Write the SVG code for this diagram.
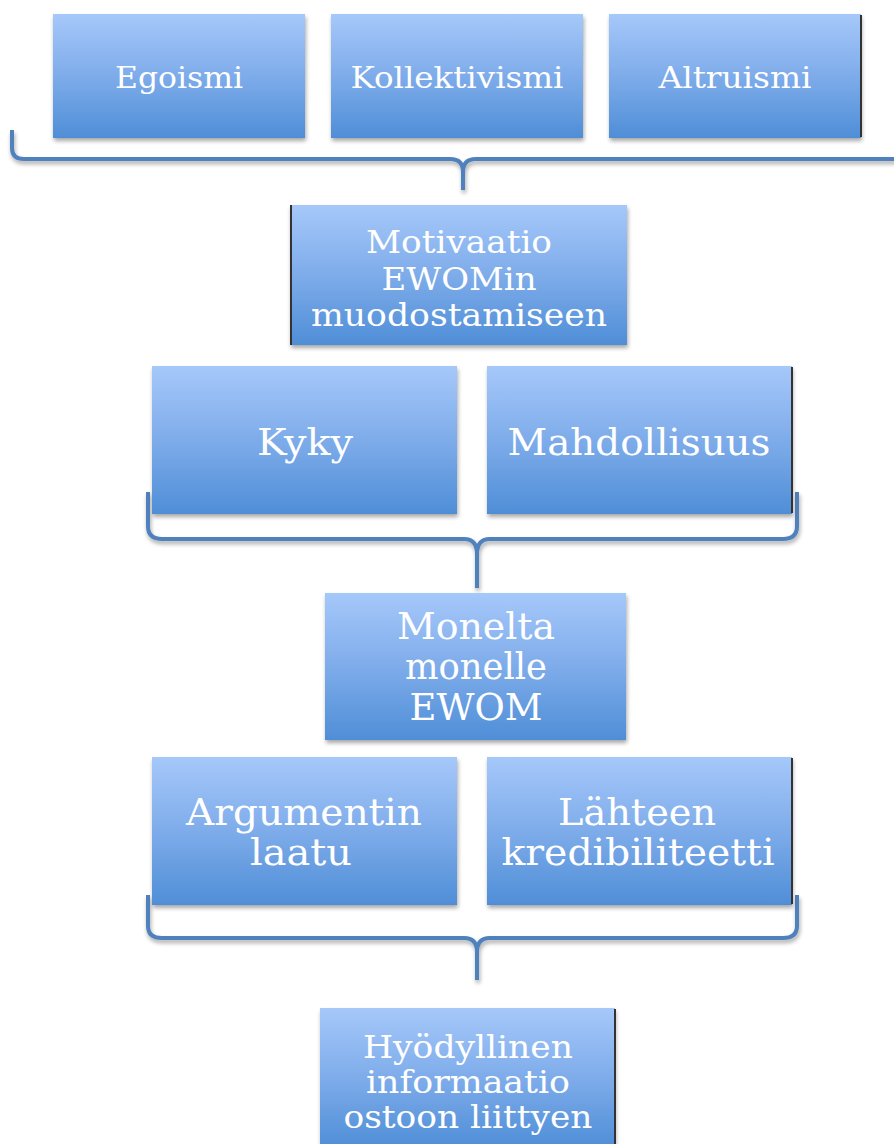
<svg xmlns="http://www.w3.org/2000/svg" width="894" height="1144" viewBox="0 0 894 1144">
<defs>
<linearGradient id="g" x1="0" y1="0" x2="0" y2="1">
<stop offset="0" stop-color="#a6c8fa"/>
<stop offset="0.5" stop-color="#7eacea"/>
<stop offset="1" stop-color="#4f8ed7"/>
</linearGradient>
<filter id="sh" x="-10%" y="-10%" width="125%" height="125%">
<feGaussianBlur in="SourceAlpha" stdDeviation="2"/>
<feOffset dx="1" dy="3" result="b"/>
<feComponentTransfer><feFuncA type="linear" slope="0.35"/></feComponentTransfer>
<feMerge><feMergeNode/><feMergeNode in="SourceGraphic"/></feMerge>
</filter>
</defs>
<style>
.box{fill:url(#g);filter:url(#sh);}
.t{font-family:"DejaVu Serif","Liberation Serif",serif;fill:#ffffff;text-anchor:middle;}
.s28{font-size:29px;}
.s30{font-size:31px;}
.s36{font-size:37px;}
.br{fill:none;stroke:#4f81bd;stroke-width:4;stroke-linejoin:round;filter:url(#sh);}
.edge{stroke:#333;stroke-width:2;}
</style>
<g id="connectors">
<path class="br" d="M12,130 V148 Q12,159 24,159 H450 Q463,159 463,172 V190 M463,172 Q463,159 476,159 H896"/>
<path class="br" d="M148,492 V526 Q148,539 162,539 H464 Q477,539 477,554 V588 M477,554 Q477,539 490,539 H783 Q797,539 797,526 V492"/>
<path class="br" d="M148,895 V926 Q148,938 162,938 H464 Q477,938 477,952 V980 M477,952 Q477,938 490,938 H783 Q797,938 797,926 V895"/>
</g>
<g id="n-egoismi"><rect class="box" x="53" y="14" width="252" height="124"/><text class="t s28" x="179" y="88" textLength="128" lengthAdjust="spacingAndGlyphs">Egoismi</text></g>
<g id="n-kollektivismi"><rect class="box" x="331" y="14" width="252" height="124"/><text class="t s28" x="457" y="88" textLength="213" lengthAdjust="spacingAndGlyphs">Kollektivismi</text></g>
<g id="n-altruismi"><rect class="box" x="609" y="14" width="252" height="124"/><line class="edge" x1="861" y1="15" x2="861" y2="137"/><text class="t s28" x="735" y="88" textLength="153" lengthAdjust="spacingAndGlyphs">Altruismi</text></g>
<g id="n-motivaatio"><rect class="box" x="290" y="205" width="337" height="140"/><line class="edge" x1="291" y1="205" x2="291" y2="345"/>
<text class="t s30" x="459" y="253" textLength="186" lengthAdjust="spacingAndGlyphs">Motivaatio</text>
<text class="t s30" x="459" y="290" textLength="155" lengthAdjust="spacingAndGlyphs">EWOMin</text>
<text class="t s30" x="459" y="326" textLength="296" lengthAdjust="spacingAndGlyphs">muodostamiseen</text></g>
<g id="n-kyky"><rect class="box" x="152" y="366" width="305" height="148"/><text class="t s36" x="305" y="455" textLength="96" lengthAdjust="spacingAndGlyphs">Kyky</text></g>
<g id="n-mahdollisuus"><rect class="box" x="487" y="366" width="305" height="148"/><line class="edge" x1="792" y1="367" x2="792" y2="513"/><text class="t s36" x="639" y="455" textLength="263" lengthAdjust="spacingAndGlyphs">Mahdollisuus</text></g>
<g id="n-monelta"><rect class="box" x="325" y="593" width="301" height="147"/>
<text class="t s36" x="476" y="639" textLength="158" lengthAdjust="spacingAndGlyphs">Monelta</text>
<text class="t s36" x="476" y="679" textLength="142" lengthAdjust="spacingAndGlyphs">monelle</text>
<text class="t s36" x="476" y="720" textLength="133" lengthAdjust="spacingAndGlyphs">EWOM</text></g>
<g id="n-argumentin"><rect class="box" x="152" y="757" width="305" height="148"/>
<text class="t s36" x="304" y="825" textLength="236" lengthAdjust="spacingAndGlyphs">Argumentin</text>
<text class="t s36" x="301" y="865" textLength="102" lengthAdjust="spacingAndGlyphs">laatu</text></g>
<g id="n-lahteen"><rect class="box" x="487" y="757" width="305" height="148"/><line class="edge" x1="792" y1="758" x2="792" y2="904"/>
<text class="t s36" x="637" y="825" textLength="158" lengthAdjust="spacingAndGlyphs">Lähteen</text>
<text class="t s36" x="638" y="865" textLength="273" lengthAdjust="spacingAndGlyphs">kredibiliteetti</text></g>
<g id="n-hyodyllinen"><rect class="box" x="320" y="1008" width="295" height="140"/><line class="edge" x1="615" y1="1009" x2="615" y2="1144"/>
<text class="t s30" x="468" y="1058" textLength="210" lengthAdjust="spacingAndGlyphs">Hyödyllinen</text>
<text class="t s30" x="468" y="1093" textLength="204" lengthAdjust="spacingAndGlyphs">informaatio</text>
<text class="t s30" x="468" y="1128" textLength="249" lengthAdjust="spacingAndGlyphs">ostoon liittyen</text></g>
</svg>
